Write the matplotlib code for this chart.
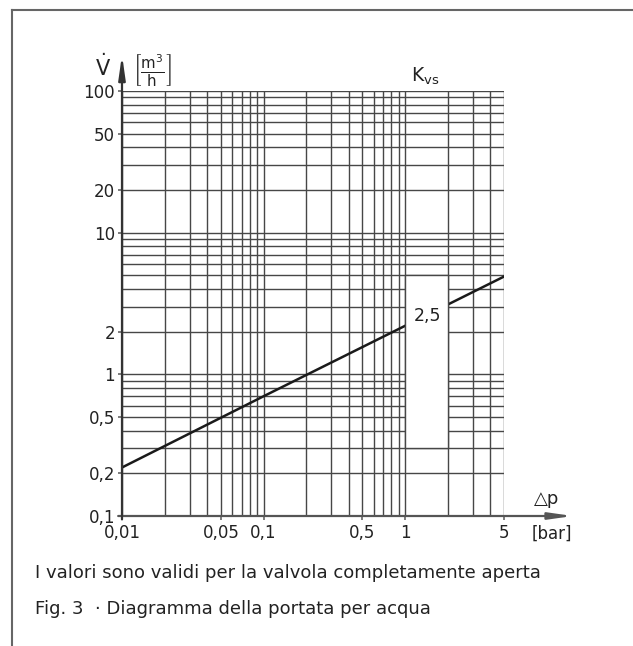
import matplotlib
matplotlib.use("Agg")
import matplotlib.pyplot as plt
from matplotlib.patches import Rectangle
from matplotlib.lines import Line2D

plt.rcParams['font.family'] = ['DejaVu Sans']
plt.rcParams['mathtext.fontset'] = 'dejavusans'

# data
dp_bar = [0.01, 0.1, 1, 5]
flow_m3h = [0.22, 0.70, 2.2, 4.9]
kvs_label = "2,5"

x_ticks = [0.01, 0.05, 0.1, 0.5, 1, 5]
x_ticklabels = ["0,01", "0,05", "0,1", "0,5", "1", "5"]
y_ticks = [0.1, 0.2, 0.5, 1, 2, 10, 20, 50, 100]
y_ticklabels = ["0,1", "0,2", "0,5", "1", "2", "10", "20", "50", "100"]

x_grid = [m * d for d in (0.01, 0.1) for m in range(1, 10)] + [1, 2, 3, 4, 5]
y_grid = [m * 0.1 for m in range(2, 10)] + [m * d for d in (1, 10) for m in range(1, 10)] + [100]

W, H = 633, 646
fig = plt.figure(figsize=(W / 100, H / 100), dpi=100)
L, R, T, B = 122, 504, 91, 516
ax = fig.add_axes([L / W, (H - B) / H, (R - L) / W, (B - T) / H])
ax.set_xscale('log')
ax.set_yscale('log')
ax.set_xlim(0.01, 5)
ax.set_ylim(0.1, 100)

gc = '#474747'
for x in x_grid:
    ax.plot([x, x], [0.1, 100], color=gc, lw=1.0, zorder=1, solid_capstyle='butt')
for y in y_grid:
    ax.plot([0.01, 5], [y, y], color=gc, lw=1.0, zorder=1, solid_capstyle='butt')

ax.plot(dp_bar, flow_m3h, color='#1a1a1a', lw=1.8, zorder=2)

ax.add_patch(Rectangle((1, 0.3), 1, 5 - 0.3, facecolor='white', edgecolor=gc, lw=1.0, zorder=3))
ax.text(1.45, 2.6, kvs_label, ha='center', va='center', fontsize=12.5, zorder=4, color='#222222')

for s in ax.spines.values():
    s.set_visible(False)
ax.minorticks_off()
ax.set_xticks(x_ticks)
ax.set_xticklabels(x_ticklabels)
ax.set_yticks(y_ticks)
ax.set_yticklabels(y_ticklabels)
ax.tick_params(axis='both', length=3, width=1.2, color='#666666', labelsize=12, pad=2)
ax.tick_params(axis='x', pad=3)
for lbl in ax.get_yticklabels():
    lbl.set_color('#222222')
for lbl in ax.get_xticklabels():
    lbl.set_color('#222222')

# axis arrows
ax.annotate('', xy=(1.18, 0), xytext=(-0.01, 0), xycoords='axes fraction',
            arrowprops=dict(arrowstyle='-|>,head_length=1.4,head_width=0.2', color='#555555', lw=1.6,
                            shrinkA=0, shrinkB=0), annotation_clip=False)
ax.annotate('', xy=(0, 1.085), xytext=(0, -0.008), xycoords='axes fraction',
            arrowprops=dict(arrowstyle='-|>,head_length=1.4,head_width=0.2', color='#333333', lw=1.6,
                            shrinkA=0, shrinkB=0), annotation_clip=False)

# axis labels
fig.text(103 / W, 1 - 67 / H, r'$\dot{\mathrm{V}}$', ha='center', va='center', fontsize=15, color='#222222')
fig.text(152 / W, 1 - 70 / H, r'$\left[\frac{\mathrm{m}^3}{\mathrm{h}}\right]$', ha='center', va='center',
         fontsize=15.5, color='#222222')
fig.text(425 / W, 1 - 76 / H, r'K$_{\mathrm{vs}}$', ha='center', va='center', fontsize=13.5, color='#222222')
fig.text(547 / W, 1 - 499 / H, '△p', ha='center', va='center', fontsize=13, color='#222222')
fig.text(552 / W, 1 - 534 / H, '[bar]', ha='center', va='center', fontsize=12, color='#222222')

# captions
fig.text(35 / W, 1 - 573 / H, 'I valori sono validi per la valvola completamente aperta',
         ha='left', va='center', fontsize=13, color='#222222')
fig.text(35 / W, 1 - 609 / H, 'Fig. 3  · Diagramma della portata per acqua',
         ha='left', va='center', fontsize=13, color='#222222')

# frame
fig.add_artist(Line2D([12 / W, 1], [1 - 10 / H, 1 - 10 / H], color='#666666', lw=1.5))
fig.add_artist(Line2D([12 / W, 12 / W], [1 - 10 / H, 0], color='#666666', lw=1.5))

fig.savefig('out.png', dpi=100)
